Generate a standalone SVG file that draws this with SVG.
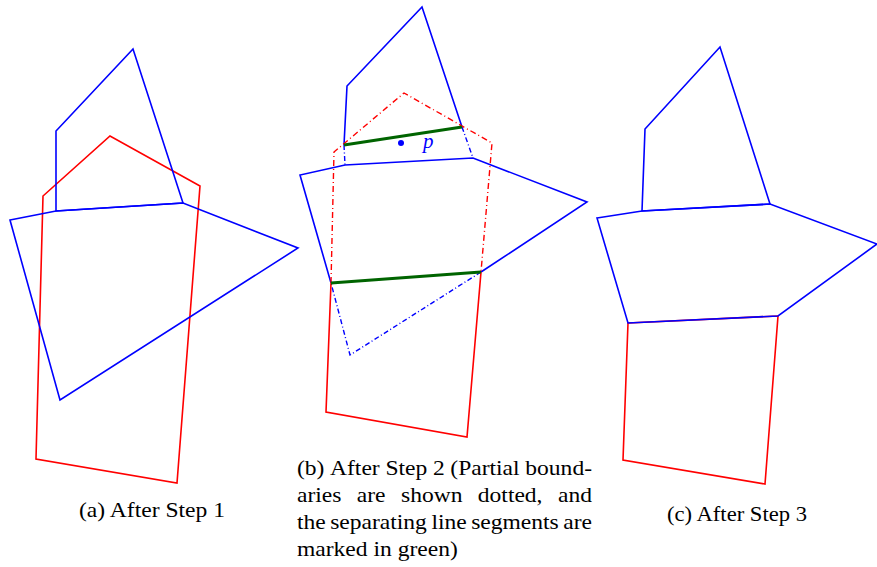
<svg xmlns="http://www.w3.org/2000/svg" width="877" height="567" viewBox="0 0 877 567">
<style>
.b{fill:none;stroke:#0000ff;stroke-width:1.6;stroke-linejoin:miter}
.r{fill:none;stroke:#ff0000;stroke-width:1.6}
.bd{fill:none;stroke:#0000ff;stroke-width:1.4;stroke-dasharray:5 2.5 1 2.5}
.rd{fill:none;stroke:#ff0000;stroke-width:1.4;stroke-dasharray:6 3 1 3}
.g{fill:none;stroke:#006400;stroke-width:3}
.t{font-family:"Liberation Serif",serif;font-size:22px;fill:#000}
</style>
<rect width="877" height="567" fill="#fff"/>
<g id="panel-a">
<polygon class="r" points="43,196 110,136 200,186 177,483 36,459"/>
<polygon class="b" points="56,211 56,131 133,49 183,203"/>
<polygon class="b" points="10,220 56,211 183,203 298,248 60,400"/>
<text class="t" x="79" y="517" textLength="146" lengthAdjust="spacingAndGlyphs">(a) After Step 1</text>
</g>
<g id="panel-b">
<polyline class="b" points="344,145 347,86 422,7 462,127"/>
<polyline class="bd" points="344,145 345,165"/>
<polyline class="bd" points="462,127 473,158"/>
<polyline class="b" points="331,283 300,175 345,165 473,158 587,202 481,272"/>
<polyline class="bd" points="481,272 350,355 331,283"/>
<polyline class="rd" points="331,283 334,152 404,93 492,143 481,272"/>
<polyline class="r" points="481,272 467,437 326,412 331,283"/>
<line class="g" x1="344" y1="145" x2="462" y2="127"/>
<line class="g" x1="331" y1="283" x2="481" y2="272"/>
<circle cx="401" cy="143" r="3" fill="#0000ff"/>
<text x="423" y="148" font-family="Liberation Serif,serif" font-style="italic" font-size="21" fill="#0000ff">p</text>
<g class="t" transform="matrix(1.07 0 0 1 -20.79 0)">
<text x="297" y="475">(b)</text>
<text x="327.9" y="475">After</text>
<text x="379.6" y="475">Step</text>
<text x="424.0" y="475">2</text>
<text x="440.3" y="475">(Partial</text>
<text x="510.4" y="475">bound-</text>
<text x="297" y="502">aries</text>
<text x="352.9" y="502">are</text>
<text x="394.2" y="502">shown</text>
<text x="466.0" y="502">dotted,</text>
<text x="540.9" y="502">and</text>
<text x="297" y="529">the</text>
<text x="328.0" y="529">separating</text>
<text x="422.6" y="529">line</text>
<text x="459.8" y="529">segments</text>
<text x="545.8" y="529">are</text>
<text x="297" y="556">marked</text>
<text x="368.5" y="556">in</text>
<text x="391.1" y="556">green)</text>
</g>
</g>
<g id="panel-c">
<polygon class="r" points="628,323 778,316 765,484 623,460"/>
<polygon class="b" points="642,211 645,129 720,47 770,204"/>
<polygon class="b" points="597,218 642,211 770,204 877,244 778,316 628,323"/>
<text class="t" x="667" y="521" textLength="140" lengthAdjust="spacingAndGlyphs">(c) After Step 3</text>
</g>
</svg>
